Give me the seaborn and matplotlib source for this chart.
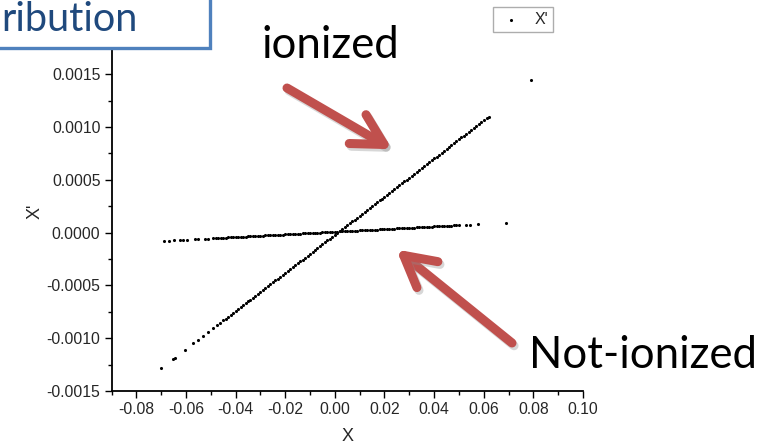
import numpy as np
import pandas as pd
import matplotlib
matplotlib.use("Agg")
import matplotlib.pyplot as plt
import matplotlib.patheffects as pe
from matplotlib.patches import FancyArrowPatch, Rectangle
from matplotlib.ticker import MultipleLocator, FormatStrFormatter
import seaborn as sns

# Phase-space samples. X in units of 1e-3, X' in units of 1e-6.
ionized_x_milli = [
    -70.1, -65.2, -64.5, -60.3, -57.0, -55.1, -53.1, -51.1, -49.1, -47.6, -46.3,
    -45, -44, -43, -42, -41, -40, -39, -38, -37, -36, -35, -34, -33, -32, -31,
    -30, -29, -28, -27, -26, -25, -24, -23, -22, -21, -20, -19, -18, -17, -16,
    -15, -14, -13, -12, -11, -10, -9, -8, -7, -6, -5, -4, -3, -2, -1,
    0, 1, 2, 3, 4, 5, 6, 7, 8, 9, 10, 11, 12, 13, 14, 15, 16, 17, 18, 19,
    20, 21, 22, 23, 24, 25, 26, 27, 28, 29, 30, 31, 32, 33, 34, 35, 36, 37, 38, 39,
    40, 41, 42, 43, 44, 45, 46, 47, 48, 49, 50, 51, 52, 53, 54, 55, 56, 57, 58, 59,
    60, 61.5, 62.0, 79.0,
]
ionized_xp_micro = [
    -1285, -1197, -1184, -1108, -1049, -1015, -978, -942, -906, -879, -856,
    -832, -814, -796, -778, -760, -742, -724, -706, -688, -670, -652, -634, -616, -598, -580,
    -562, -543, -525, -507, -489, -471, -453, -435, -417, -399, -381, -363, -345, -327, -309,
    -291, -273, -255, -237, -219, -201, -182, -164, -146, -128, -110, -92, -74, -56, -38,
    -20, -2, 16, 34, 52, 70, 88, 106, 124, 142, 161, 179, 197, 215, 233, 251, 269, 287, 305, 323,
    341, 359, 377, 395, 413, 431, 449, 467, 485, 503, 522, 540, 558, 576, 594, 612, 630, 648, 666, 684,
    702, 720, 738, 756, 774, 792, 810, 828, 846, 864, 883, 901, 919, 937, 955, 973, 991, 1009, 1027, 1045,
    1063, 1090, 1099, 1450,
]

neutral_x_milli = [
    -69.0, -67.0, -65.0, -62.3, -61.0, -59.6, -56.3, -55.0, -52.3, -51.0,
    -49, -48, -47, -46, -45, -44, -43, -42, -41, -40, -39, -38, -37, -36, -35, -34, -33, -32, -31,
    -30, -29, -28, -27, -26, -25, -24, -23, -22, -21, -20, -19, -18, -17, -16,
    -15, -14, -13, -12, -11, -10, -9, -8, -7, -6, -5, -4, -3, -2, -1,
    0, 1, 2, 3, 4, 5, 6, 7, 8, 9, 10, 11, 12, 13, 14, 15, 16, 17, 18, 19,
    20, 21, 22, 23, 24, 25, 26, 27, 28, 29, 30, 31, 32, 33, 34, 35, 36, 37, 38, 39,
    40, 41, 42, 43, 44, 45, 46, 47, 48, 49, 50, 52.9, 54.5, 57.7, 69.0,
]
neutral_xp_micro = [
    -78, -76, -73, -70, -68, -67, -62, -61, -57, -56,
    -53, -52, -51, -50, -48, -47, -46, -45, -43, -42, -41, -40, -38, -37, -36, -35, -33, -32, -31,
    -30, -28, -27, -26, -25, -23, -22, -21, -20, -18, -17, -16, -15, -13, -12,
    -11, -10, -8, -7, -6, -5, -3, -2, -1, 0, 2, 3, 4, 5, 7,
    8, 9, 11, 12, 13, 14, 16, 17, 18, 19, 21, 22, 23, 24, 26, 27, 28, 29, 31, 32,
    33, 34, 36, 37, 38, 39, 41, 42, 43, 44, 46, 47, 48, 49, 51, 52, 53, 54, 56, 57,
    58, 59, 61, 62, 63, 64, 66, 67, 68, 69, 71, 74, 76, 80, 94,
]

x_ticks = [-0.08, -0.06, -0.04, -0.02, 0.00, 0.02, 0.04, 0.06, 0.08, 0.10]
y_ticks = [-0.0015, -0.0010, -0.0005, 0.0000, 0.0005, 0.0010, 0.0015]

df = pd.DataFrame({
    "X": np.array(ionized_x_milli + neutral_x_milli) / 1e3,
    "X'": np.array(ionized_xp_micro + neutral_xp_micro) / 1e6,
})

W, H = 772, 446
sns.set_style("ticks")
plt.rcParams["font.family"] = ["Liberation Sans", "DejaVu Sans"]

fig = plt.figure(figsize=(W / 100, H / 100), dpi=100)


def fx(px):
    return px / W


def fy(py):
    return 1 - py / H


ax = fig.add_axes([fx(111.5), fy(391), fx(583) - fx(111.5), fy(32) - fy(391)])

sns.scatterplot(data=df, x="X", y="X'", ax=ax, color="black", s=5,
                linewidth=0, marker="o", label="X'")

ax.set_xlim(-0.09, 0.10)
ax.set_ylim(-0.0015, 0.0019)
ax.set_xticks(x_ticks)
ax.set_yticks(y_ticks)
ax.xaxis.set_minor_locator(MultipleLocator(0.01))
ax.yaxis.set_minor_locator(MultipleLocator(0.00025))
ax.xaxis.set_major_formatter(FormatStrFormatter("%.2f"))
ax.yaxis.set_major_formatter(FormatStrFormatter("%.4f"))
ax.tick_params(which="major", direction="out", length=5, width=1.0,
               labelsize=11.3, color="black", pad=3)
ax.tick_params(which="minor", direction="out", length=3, width=1.0, color="black")
for side in ("top", "right"):
    ax.spines[side].set_visible(False)
for side in ("left", "bottom"):
    ax.spines[side].set_linewidth(1.3)
    ax.spines[side].set_color("black")
ax.set_xlabel("X", fontsize=13, labelpad=8)
ax.set_ylabel("X'", fontsize=13, labelpad=2)

leg = ax.legend(loc="upper left", bbox_to_anchor=(fx(493), fy(7)),
                bbox_transform=fig.transFigure, fontsize=11.5, frameon=True,
                fancybox=False, edgecolor="#999999", borderpad=0.3,
                handlelength=1.6, handletextpad=0.7, markerscale=1.0,
                borderaxespad=0)
leg.get_frame().set_linewidth(1.0)

# Title box in the top-left corner
fig.patches.append(Rectangle((fx(-20), fy(48)), fx(230), fy(-20) - fy(48),
                             transform=fig.transFigure, facecolor="white",
                             edgecolor="#4F81BD", linewidth=2.4, zorder=5))
fig.text(fx(1), fy(31), "ribution", ha="left", va="baseline",
         fontsize=28.5, color="#1F497D", family=["Lato", "DejaVu Sans"], zorder=6)

fig.text(fx(330), fy(58), "ionized", ha="center", va="baseline",
         fontsize=31.5, color="black", family=["Lato", "DejaVu Sans"])
fig.text(fx(643), fy(368), "Not-ionized", ha="center", va="baseline",
         fontsize=31.5, color="black", family=["Lato", "DejaVu Sans"])

shadow = [pe.SimpleLineShadow(offset=(1.5, -2.0), shadow_color="#8f8f8f", alpha=0.35),
          pe.Normal()]
for tail, tip in [((287, 88), (397, 152)), ((512, 343), (392, 246))]:
    arrow = FancyArrowPatch((fx(tail[0]), fy(tail[1])), (fx(tip[0]), fy(tip[1])),
                            transform=fig.transFigure,
                            arrowstyle="->,head_length=22,head_width=12",
                            mutation_scale=1, linewidth=6.5, color="#C0504D",
                            capstyle="round", joinstyle="round",
                            shrinkA=0, shrinkB=4, zorder=4)
    arrow.set_path_effects(shadow)
    fig.patches.append(arrow)

fig.savefig("out.png", dpi=100, facecolor="white")
